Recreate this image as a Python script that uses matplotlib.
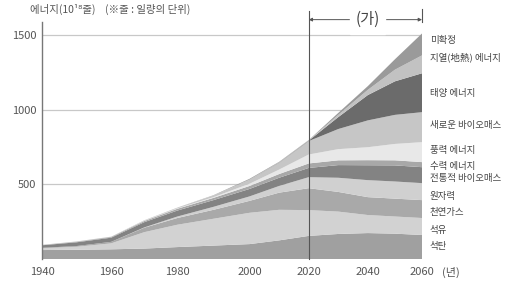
import numpy as np
import matplotlib.pyplot as plt

plt.rcParams['font.family'] = ['Noto Sans CJK KR', 'DejaVu Sans']

# data (10^18 J)
years = [1940, 1950, 1960, 1970, 1980, 1990, 2000, 2010, 2020, 2030, 2040, 2050, 2060]
coal     = [60, 62, 65, 70, 80, 90, 100, 125, 155, 168, 174, 170, 161]
oil      = [12, 20, 40, 110, 150, 180, 210, 205, 173, 150, 121, 115, 114]
gas      = [3, 5, 10, 30, 45, 60, 80, 115, 147, 132, 120, 120, 120]
nuclear  = [0, 0, 0, 2, 10, 20, 30, 45, 74, 95, 114, 115, 114]
trad_bio = [17, 25, 28, 35, 40, 45, 50, 55, 62, 85, 100, 108, 107]
hydro    = [2, 4, 5, 8, 12, 15, 20, 25, 30, 32, 34, 34, 34]
wind     = [0, 0, 0, 2, 3, 5, 15, 30, 60, 75, 87, 110, 134]
new_bio  = [1, 2, 2, 3, 5, 10, 25, 45, 90, 135, 180, 195, 201]
solar    = [0, 0, 0, 0, 0, 0, 1, 2, 3, 80, 170, 225, 261]
geo      = [0, 0, 0, 0, 0, 1, 2, 2, 2, 15, 35, 78, 120]
other    = [0, 0, 0, 0, 0, 2, 5, 3, 2, 13, 25, 70, 147]

labels = ['석탄', '석유', '천연가스', '원자력', '전통적 바이오매스', '수력 에너지',
          '풍력 에너지', '새로운 바이오매스', '태양 에너지', '지열(地熱) 에너지', '미확정']
label_y = [87, 194, 315, 422, 542, 623, 730, 898, 1112, 1353, 1467]
colors = ['#a0a0a0', '#d2d2d2', '#a9a9a9', '#d0d0d0', '#838383', '#a8a8a8',
          '#e8e8e8', '#c6c6c6', '#6b6b6b', '#c2c2c2', '#9a9a9a']

# the year axis in the original is not evenly spaced
tick_years = [1940, 1960, 1980, 2000, 2020, 2040, 2060]
tick_px = [43, 112, 178, 250, 309, 368, 422]
def fwd(x):
    return np.interp(x, tick_years, tick_px)
def inv(p):
    return np.interp(p, tick_px, tick_years)

fig = plt.figure(figsize=(5.09, 2.86), dpi=100)
ax = fig.add_axes([42/509, 27/286, 380/509, 237/286])
ax.set_xscale('function', functions=(fwd, inv))

for v in [500, 1000, 1500]:
    ax.axhline(v, color='#c8c8c8', lw=0.9, zorder=0)

ax.stackplot(years, coal, oil, gas, nuclear, trad_bio, hydro, wind, new_bio,
             solar, geo, other, colors=colors, lw=0, zorder=1)

ax.set_xlim(1940, 2060)
ax.set_ylim(0, 1590)

ax.set_yticks([500, 1000, 1500])
ax.set_xticks(tick_years)
ax.tick_params(axis='both', length=0, labelsize=8, colors='#555555')
ax.tick_params(axis='x', pad=6)
ax.tick_params(axis='y', pad=4)
ax.text(1.052, -0.058, '(년)', transform=ax.transAxes, fontsize=8,
        color='#555555', ha='left', va='center')

for s in ['top', 'right', 'bottom']:
    ax.spines[s].set_visible(False)
ax.spines['left'].set_color('#777777')
ax.spines['left'].set_linewidth(1.0)

# 2020 divider and (가) marker
ax.axvline(2020, ymin=0, ymax=1.045, color='#555555', lw=0.8, clip_on=False, zorder=3)
ax.plot([2060, 2060], [1.0, 1.055], transform=ax.get_xaxis_transform(),
        color='#555555', lw=0.8, clip_on=False)
ax.annotate('', xy=(2020, 1.01), xytext=(2060, 1.01), xycoords=ax.get_xaxis_transform(),
            arrowprops=dict(arrowstyle='<|-|>', color='#555555', lw=0.7,
                            mutation_scale=5, shrinkA=0, shrinkB=0), annotation_clip=False)
ax.text(2040, 1.01, '(가)', transform=ax.get_xaxis_transform(), ha='center', va='center',
        fontsize=11, color='#444444', backgroundcolor='white', clip_on=False)

for lab, y in zip(labels, label_y):
    ax.text(1.02, y, lab, transform=ax.get_yaxis_transform(), fontsize=6.8,
            color='#444444', va='center', ha='left', clip_on=False)

fig.text(30/509, 1 - 9/286, '에너지(10¹⁸줄)    (※줄 : 일량의 단위)', fontsize=7.5,
         color='#555555', va='center', ha='left')

fig.savefig('out.png', dpi=100)
